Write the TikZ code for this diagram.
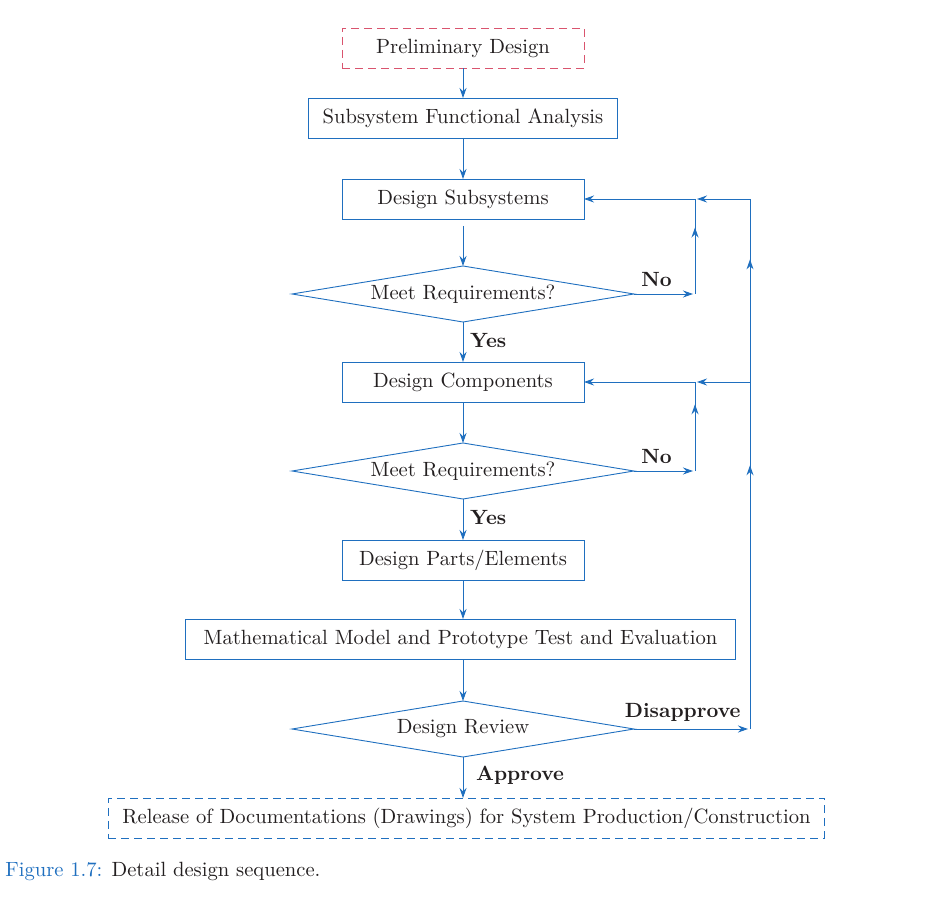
\documentclass[tikz,border=0pt]{standalone}
\usepackage{xcolor}
\usepackage{tikz}
\usetikzlibrary{shapes.geometric,arrows.meta,positioning,calc,decorations.markings}
\definecolor{flowcol}{HTML}{1F6FBF}
\definecolor{startcol}{HTML}{D9546E}
\definecolor{txtcol}{HTML}{231F20}

\begin{document}
\begin{tikzpicture}[x=0.5pt,y=-0.5pt,node distance=20pt,font=\fontsize{10.3}{12}\selectfont,
  stepbox/.style={draw=flowcol,line width=0.45pt,outer sep=0pt,minimum width=121pt,minimum height=20pt,inner xsep=7pt,align=center,text=txtcol},
  startbox/.style={stepbox,draw=startcol,dash pattern=on 4pt off 2.5pt},
  endbox/.style={stepbox,dash pattern=on 4pt off 2.5pt},
  decision/.style={draw=flowcol,line width=0.45pt,outer sep=0pt,diamond,aspect=6.1,minimum width=171pt,minimum height=28pt,inner sep=0pt,text=txtcol},
  flow/.style={draw=flowcol,line width=0.45pt},
  arr/.style={flow,-{Stealth[length=5pt,width=3.5pt]}},
  midarrow/.style={flow,postaction={decorate},decoration={markings,mark=at position #1 with {\arrow{Stealth[length=5pt,width=3.5pt]}}}},
  lbl/.style={font=\fontsize{10.3}{12}\selectfont\bfseries,text=txtcol}]
  \useasboundingbox (0,0) rectangle (951,897);
  % main column
  \node[startbox] (prelim) at (463,48) {Preliminary Design};
  \node[stepbox,below=15pt of prelim] (sfa) {Subsystem Functional Analysis};
  \node[stepbox,below=20.5pt of sfa] (dsub) {Design Subsystems};
  \node[decision,below=23.5pt of dsub] (chk1) {Meet Requirements?};
  \node[stepbox,below=20pt of chk1] (dcomp) {Design Components};
  \node[decision,below=20.5pt of dcomp] (chk2) {Meet Requirements?};
  \node[stepbox,below=20.5pt of chk2] (dparts) {Design Parts/Elements};
  \node[stepbox,below=19.5pt of dparts,xshift=-1.25pt,inner xsep=9pt] (model) {Mathematical Model and Prototype Test and Evaluation};
  \node[decision,below=21pt of model,xshift=1.25pt] (review) {Design Review};
  \node[endbox,below=20.5pt of review,xshift=1.75pt] (release) {Release of Documentations (Drawings) for System Production/Construction};
  \draw[arr] (prelim)--(sfa);
  \draw[arr] (sfa)--(dsub);
  \draw[arr,shorten <=3.5pt] (dsub)--(chk1);
  \draw[arr] (chk1)--node[lbl,right,pos=0.45]{Yes}(dcomp);
  \draw[arr] (dcomp)--(chk2);
  \draw[arr] (chk2)--node[lbl,right,pos=0.45]{Yes}(dparts);
  \draw[arr] (dparts)--(model.north -| dparts.south);
  \draw[arr] (model.south -| review.north)--(review);
  \draw[arr] (review)--node[lbl,right,pos=0.45,xshift=3pt]{Approve}(release.north -| review.south);
  % feedback loops
  \coordinate (loopin) at (695,0);
  \coordinate (loopout) at (750,0);
  \coordinate (n1) at (chk1.east -| loopin);
  \coordinate (t1) at (dsub.east -| loopin);
  \coordinate (t2) at (dsub.east -| loopout);
  \coordinate (n2) at (chk2.east -| loopin);
  \coordinate (c1) at (dcomp.east -| loopin);
  \coordinate (c2) at (dcomp.east -| loopout);
  \coordinate (r1) at (review.east -| loopout);
  \draw[arr,shorten >=1pt] (chk1.east)--node[lbl,above,pos=0.37]{No}(n1);
  \draw[midarrow=0.7] (n1)--(t1);
  \draw[arr] (t1)--(dsub.east);
  \draw[arr,shorten >=1pt] (t2)--(t1);
  \draw[arr,shorten >=1pt] (chk2.east)--node[lbl,above,pos=0.37]{No}(n2);
  \draw[midarrow=0.75] (n2)--(c1);
  \draw[arr] (c1)--(dcomp.east);
  \draw[arr,shorten >=1pt] (c2)--(c1);
  \draw[arr,shorten >=1pt] (review.east)--node[lbl,above,pos=0.42]{Disapprove}(r1);
  \draw[midarrow=0.76] (r1)--(c2);
  \draw[midarrow=0.67] (c2)--(t2);
  % caption
  \node[anchor=west,inner sep=0pt,text=txtcol] (caption) at (5,871) {\textcolor{flowcol}{Figure 1.7:} Detail design sequence.};
\end{tikzpicture}
\end{document}
